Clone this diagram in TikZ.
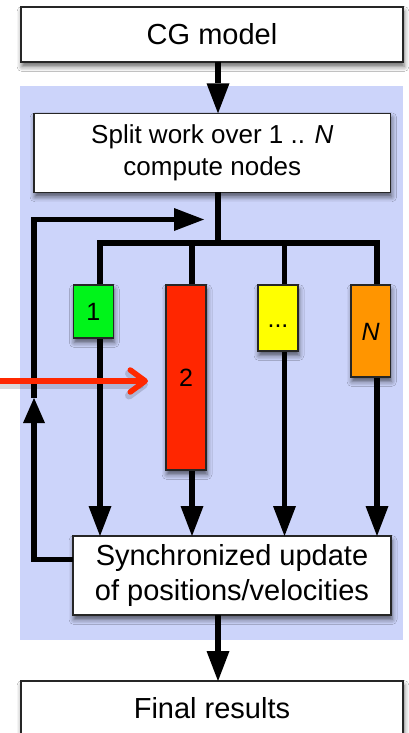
\documentclass[tikz,border=0pt]{standalone}
\usepackage{fontspec}
\setmainfont{Liberation Sans}
\usetikzlibrary{arrows.meta,shadows.blur}

\definecolor{panelblue}{RGB}{204,212,250}
\definecolor{wgreen}{RGB}{0,244,26}
\definecolor{wred}{RGB}{255,38,0}
\definecolor{wyellow}{RGB}{255,255,0}
\definecolor{worange}{RGB}{255,149,0}
\definecolor{probe}{RGB}{255,40,0}

\begin{document}
\begin{tikzpicture}[x=1pt,y=-1pt,
  softshadow/.style={blur shadow={shadow xshift=1pt,shadow yshift=-4.5pt,
      shadow blur radius=5pt,shadow opacity=60}},
  box/.style={draw=black!85,line width=1.3pt,fill=white,inner sep=0pt,
      outer sep=0pt,anchor=north west,align=center,softshadow},
  big/.style={font=\fontsize{29}{35}\selectfont},
  mid/.style={font=\fontsize{26}{31.5}\selectfont},
  worker/.style={box,font=\fontsize{25}{30}\selectfont,
      text height=18pt,text depth=0pt,minimum width=40pt},
  conn/.style={line width=5.5pt,draw=black},
  arr/.style={conn,-{Triangle[length=30pt,width=23pt,line width=0pt]}},
  arrs/.style={conn,-{Triangle[length=25pt,width=22pt,line width=0pt]}},
  probearrow/.style={line width=5.5pt,line cap=round,
      -{Straight Barb[length=15pt,width=22pt,line cap=round,line join=round]},
      shorten >=18pt},
]
\useasboundingbox (0,0) rectangle (409,733);
\fill[white] (0,0) rectangle (409,733);

% shaded region holding the parallel part
\fill[panelblue] (20,86) rectangle (403,640);

% main stages
\node[box,big,minimum width=382pt,minimum height=55pt] (cg) at (21,7) {CG model};
\node[box,mid,minimum width=356.7pt,minimum height=79pt] (split) at (34,113.3)
  {Split work over 1 .. \textit{N}\\compute nodes};
\node[box,big,minimum width=318pt,minimum height=79pt] (sync) at (73,536)
  {Synchronized update\\of positions/velocities};
\node[box,big,minimum width=382pt,minimum height=54pt] (final) at (21,681)
  {Final results};

% routing points
\coordinate (bus) at (218,243);
\coordinate (col1) at (100,243);
\coordinate (col2) at (192,243);
\coordinate (col3) at (284.5,243);
\coordinate (col4) at (377,243);
\coordinate (loopup) at (34,398);
\coordinate (loopend) at (204,219.5);
\coordinate (probein) at (0,381);

% flow between stages
\draw[arr] (cg.south -| bus) -- (split.north -| bus);
\draw[arr] (sync.south -| bus) -- (final.north -| bus);

% fan-out to the compute nodes and back into the update
\draw[conn] (split.south -| bus) -- (bus);
\draw[arr] (bus) -- (col1) -- (col1 |- sync.north);
\draw[arr] (bus) -- (col2) -- (col2 |- sync.north);
\draw[arr] (bus) -- (col3) -- (col3 |- sync.north);
\draw[arr] (bus) -- (col4) -- (col4 |- sync.north);

% iteration loop
\draw[arrs] ([yshift=16pt]sync.west) -| (loopup);
\draw[arr] (loopup) |- (loopend);

% compute nodes
\node[worker,fill=wgreen,minimum height=53pt] (w1) at (73.3,285) {1};
\node[worker,fill=wred,minimum height=185pt] (w2) at (166,285) {2};
\node[worker,fill=wyellow,minimum height=66pt] (w3) at (258,285) {...};
\node[worker,fill=worange,minimum width=39.5pt,minimum height=92pt] (w4) at (351,285) {\textit{N}};

% external probe pointing at node 2, with a faint shadow
\draw[probearrow,black,opacity=0.15,line width=8pt,transform canvas={yshift=-3.5pt}]
  (probein) -- (probein -| w2.west);
\draw[probearrow,probe] (probein) -- (probein -| w2.west);
\end{tikzpicture}
\end{document}
